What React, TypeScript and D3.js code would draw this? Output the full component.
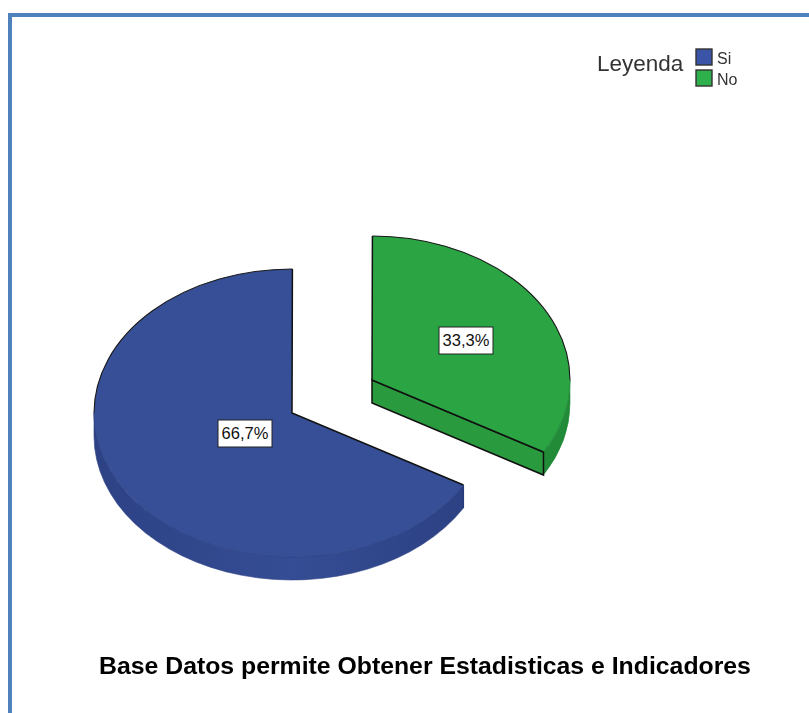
import React from "react";
import * as d3 from "d3";

const categories = ["Si", "No"];
const percentages = [66.7, 33.3];
const labels = ["66,7%", "33,3%"];
const topColors = ["#364f97", "#2ba544"];
const wallEdgeColors = ["#2d4285", "#218a38"];
const wallMidColors = ["#354d94", "#269a3e"];
const cutColors = ["#2f4488", "#2a9a3e"];
const swatches = ["#3a55a8", "#2eb04a"];
const centers: [number, number][] = [[292, 413], [372, 380]];
const labelPos: [number, number][] = [[245, 433], [466, 340]];
const title = "Base Datos permite Obtener Estadisticas e Indicadores";
const legendTitle = "Leyenda";

const RX = 198, RY = 144, DEPTH = 23;

const pie = d3.pie<number>().value((d) => d).sort(null).startAngle((2 * Math.PI) / 3).endAngle((2 * Math.PI * 4) / 3);
// Blue runs from 120deg clockwise to 360deg, green then closes the circle.
const slices = pie(percentages);

const pt = (c: [number, number], a: number, dy = 0): [number, number] => [
  c[0] + RX * Math.sin(a),
  c[1] - RY * Math.cos(a) + dy,
];

function topPath(c: [number, number], a0: number, a1: number) {
  const p0 = pt(c, a0), p1 = pt(c, a1);
  const large = a1 - a0 > Math.PI ? 1 : 0;
  return `M${c[0]},${c[1]}L${p0[0]},${p0[1]}A${RX},${RY} 0 ${large} 1 ${p1[0]},${p1[1]}Z`;
}

function arcPath(c: [number, number], a0: number, a1: number) {
  const p0 = pt(c, a0), p1 = pt(c, a1);
  const large = a1 - a0 > Math.PI ? 1 : 0;
  return `M${p0[0]},${p0[1]}A${RX},${RY} 0 ${large} 1 ${p1[0]},${p1[1]}`;
}

function wallPath(c: [number, number], a0: number, a1: number) {
  // visible outer wall: only the lower half of the ellipse (90deg to 270deg)
  const s = Math.max(a0, Math.PI / 2), e = Math.min(a1, (3 * Math.PI) / 2);
  if (e <= s) return "";
  const p0 = pt(c, s), p1 = pt(c, e), q0 = pt(c, s, DEPTH), q1 = pt(c, e, DEPTH);
  const large = e - s > Math.PI ? 1 : 0;
  return `M${p0[0]},${p0[1]}A${RX},${RY} 0 ${large} 1 ${p1[0]},${p1[1]}L${q1[0]},${q1[1]}A${RX},${RY} 0 ${large} 0 ${q0[0]},${q0[1]}Z`;
}

export default function App() {
  const blue = { a0: slices[0].startAngle, a1: slices[0].endAngle };
  const green = { a0: slices[0].endAngle - 2 * Math.PI, a1: slices[1].endAngle - 2 * Math.PI };
  const ranges = [blue, green];
  const HALF = Math.PI / 2;
  // upper (outlined) part of each rim
  const upper: [number, number][] = [[(3 * Math.PI) / 2, blue.a1], [green.a0, HALF]];
  const lower: [number, number][] = [[blue.a0, (3 * Math.PI) / 2], [HALF, green.a1]];
  const gp = pt(centers[1], green.a1);
  const bp = pt(centers[0], blue.a0);
  return (
    <svg width={809} height={713} style={{ position: "absolute", left: 0, top: 0, background: "#fff" }}>
      <defs>
        {categories.map((c, i) => (
          <linearGradient key={c} id={`wall${i}`} gradientUnits="userSpaceOnUse" x1={centers[i][0] - RX} x2={centers[i][0] + RX} y1={0} y2={0}>
            <stop offset="0" stopColor={wallEdgeColors[i]} />
            <stop offset="0.5" stopColor={wallMidColors[i]} />
            <stop offset={i === 0 ? "0.9" : "1"} stopColor={wallEdgeColors[i]} />
          </linearGradient>
        ))}
      </defs>
      <path d="M10,713V15H809" fill="none" stroke="#4f81bd" strokeWidth={4} />

      <g style={{ filter: "blur(0.45px)" }}>
        {ranges.map((r, i) => (
          <path key={i} d={wallPath(centers[i], r.a0, r.a1)} fill={`url(#wall${i})`} stroke={wallEdgeColors[i]} strokeWidth={0.6} />
        ))}
        <path
          d={`M${centers[1][0]},${centers[1][1]}L${gp[0]},${gp[1]}L${gp[0]},${gp[1] + DEPTH}L${centers[1][0]},${centers[1][1] + DEPTH}Z`}
          fill={cutColors[1]}
          stroke="#111"
          strokeWidth={1.5}
        />
        {ranges.map((r, i) => (
          <path key={i} d={topPath(centers[i], r.a0, r.a1)} fill={topColors[i]} />
        ))}
        {upper.map((r, i) => (
          <path key={i} d={arcPath(centers[i], r[0], r[1])} fill="none" stroke="#1a1a1a" strokeWidth={1.1} />
        ))}
        {lower.map((r, i) => (
          <path key={i} d={arcPath(centers[i], r[0], r[1])} fill="none" stroke={wallEdgeColors[i]} strokeWidth={0.8} />
        ))}
        {/* radial edges */}
        {ranges.map((r, i) => {
          const c = centers[i], a = pt(c, r.a0), b = pt(c, r.a1);
          return <path key={i} d={`M${a[0]},${a[1]}L${c[0]},${c[1]}L${b[0]},${b[1]}`} fill="none" stroke="#111" strokeWidth={1.5} />;
        })}
        <path d={`M${bp[0]},${bp[1]}V${bp[1] + DEPTH}`} stroke="#263a78" strokeWidth={1.2} />

        {labels.map((t, i) => (
          <g key={t} transform={`translate(${labelPos[i][0]},${labelPos[i][1]})`}>
            <rect x={-27} y={-13} width={54} height={27} fill="#fff" stroke="#222" strokeWidth={1} />
            <text y={5.5} textAnchor="middle" fontFamily="Liberation Sans" fontSize={16.5} fill="#111">{t}</text>
          </g>
        ))}

        <text x={597} y={71} fontFamily="Liberation Sans" fontSize={22.5} fill="#333">{legendTitle}</text>
        {categories.map((c, i) => (
          <g key={c} transform={`translate(696,${49 + i * 21})`}>
            <rect width={16} height={16} fill={swatches[i]} stroke="#333" strokeWidth={1.4} />
            <text x={21} y={15} fontFamily="Liberation Sans" fontSize={16} fill="#333">{c}</text>
          </g>
        ))}

        <text x={425} y={674} textAnchor="middle" fontFamily="Liberation Sans" fontWeight="bold" fontSize={24.8} fill="#000">{title}</text>
      </g>
    </svg>
  );
}
